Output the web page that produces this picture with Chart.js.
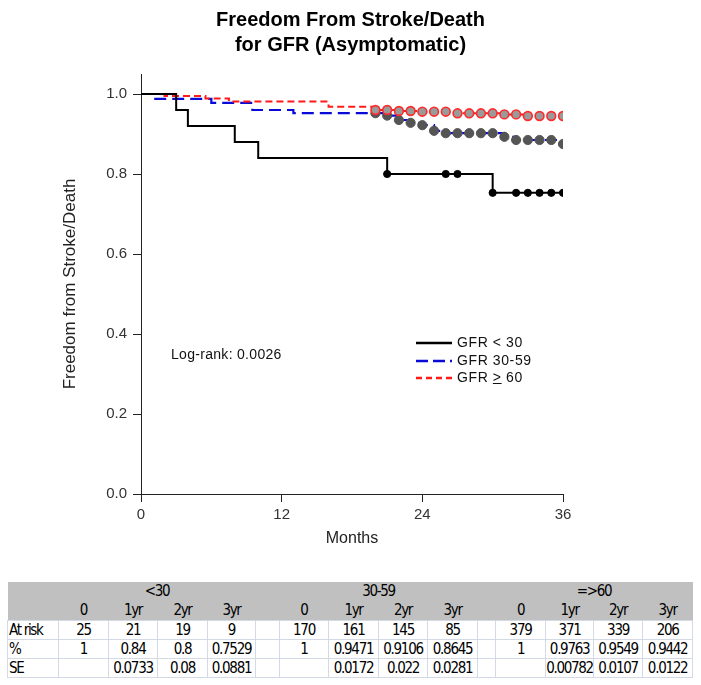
<!DOCTYPE html>
<html lang="en">
<head>
    <meta charset="UTF-8">
    <title>Freedom From Stroke/Death for GFR (Asymptomatic)</title>
    <script src="https://cdn.jsdelivr.net/npm/chart.js"></script>
    <style>
        body { margin: 0; background: #fff; }
        #wrap { position: relative; width: 701px; height: 685px; font-family: "Liberation Sans", Arial, sans-serif; }
        #km { position: absolute; left: 0; top: 0; }
        #legend { position: absolute; left: 416px; top: 334px; font-size: 14px; color: #111; letter-spacing: 0.6px; }
        #legend div { height: 17.5px; line-height: 17.5px; white-space: nowrap; }
        #legend svg { vertical-align: middle; margin-right: 5px; }
        #logrank { position: absolute; left: 171px; top: 346px; font-size: 14px; color: #111; letter-spacing: 0.3px; }
        #risk { position: absolute; left: 7px; top: 582px; border-collapse: collapse; table-layout: fixed; width: 685px;
                font-family: "Liberation Sans Narrow", "DejaVu Sans Condensed", sans-serif; font-size: 15px; letter-spacing: -1.3px; color: #000; }
        #risk td { padding: 0; text-align: center; overflow: visible; white-space: nowrap; line-height: 17px; }
        #risk tr.head td { background: #c0c0c0; height: 19px; }
        #risk tr.body td { border: 1px solid #d4d9e6; height: 18px; }
        #risk td.lab { text-align: left; padding-left: 1px; }
    </style>
</head>
<body>
<div id="wrap">
    <canvas id="km" width="701" height="560"></canvas>
    <div id="legend"></div>
    <div id="logrank">Log-rank: 0.0026</div>
    <table id="risk"></table>
</div>

<script>
    // survival curves (months, proportion)
    const lowMonths  = [0, 3, 4, 8, 10, 21, 30, 36];
    const lowSurv    = [1.0, 0.96, 0.92, 0.88, 0.84, 0.80, 0.7529, 0.7529];
    const lowCensMonths = [21, 26, 27, 30, 32, 33, 34, 35, 36];
    const lowCensSurv   = [0.80, 0.80, 0.80, 0.7529, 0.7529, 0.7529, 0.7529, 0.7529, 0.7529];

    const midMonths  = [0, 1, 6, 9.5, 13, 21, 22, 23, 24, 25, 26, 31, 32, 35.8, 36];
    const midSurv    = [1.0, 0.988, 0.978, 0.96, 0.952, 0.946, 0.935, 0.928, 0.922, 0.908, 0.902, 0.893, 0.885, 0.875, 0.875];
    const midCensMonths = [20, 21, 22, 23, 24, 25, 26, 27, 28, 29, 30, 31, 32, 33, 34, 35, 36];
    const midCensSurv   = [0.952, 0.946, 0.935, 0.928, 0.922, 0.908, 0.902, 0.902, 0.902, 0.902, 0.902, 0.893, 0.885, 0.885, 0.885, 0.885, 0.875];

    const highMonths = [0, 2, 5.5, 7.5, 16, 20, 22, 24, 27, 31, 33, 36];
    const highSurv   = [1.0, 0.995, 0.989, 0.981, 0.968, 0.96, 0.9575, 0.9558, 0.9517, 0.949, 0.945, 0.945];
    const highCensMonths = [20, 21, 22, 23, 24, 25, 26, 27, 28, 29, 30, 31, 32, 33, 34, 35, 36];
    const highCensSurv   = [0.96, 0.96, 0.9575, 0.9575, 0.9558, 0.9558, 0.9558, 0.9517, 0.9517, 0.9517, 0.9517, 0.949, 0.949, 0.945, 0.945, 0.945, 0.945];

    const monthTicks = [0, 12, 24, 36];
    const survTicks = [0, 0.2, 0.4, 0.6, 0.8, 1.0];

    // risk table
    const groupNames = ['<30', '30-59', '=>60'];
    const timeLabels = ['0', '1yr', '2yr', '3yr'];
    const rowNames = ['At risk', '%', 'SE'];
    const atRisk = [[25, 21, 19, 9], [170, 161, 145, 85], [379, 371, 339, 206]];
    const pct = [['1', '0.84', '0.8', '0.7529'], ['1', '0.9471', '0.9106', '0.8645'], ['1', '0.9763', '0.9549', '0.9442']];
    const se = [['', '0.0733', '0.08', '0.0881'], ['', '0.0172', '0.022', '0.0281'], ['', '0.00782', '0.0107', '0.0122']];

    const legendNames = ['GFR < 30', 'GFR 30-59', 'GFR <u>&gt;</u> 60'];

    function pts(xs, ys) {
        return xs.map((x, i) => ({ x: x, y: ys[i] }));
    }

    function buildLegend() {
        const styles = [
            { color: '#000000', dash: '' },
            { color: '#0a0ad8', dash: '12 5' },
            { color: '#ff1a1a', dash: '6 4' }
        ];
        const box = document.getElementById('legend');
        legendNames.forEach((name, i) => {
            const row = document.createElement('div');
            row.innerHTML = '<svg width="36" height="6"><line x1="0" y1="3" x2="36" y2="3" stroke="' + styles[i].color +
                '" stroke-width="2.5" stroke-dasharray="' + styles[i].dash + '"/></svg>' + name;
            box.appendChild(row);
        });
    }

    function buildTable() {
        const widths = [51, 50, 49, 50, 48, 24, 49, 50, 49, 50, 18, 50, 48, 49, 50];
        const t = document.getElementById('risk');
        let html = '<colgroup>' + widths.map(w => '<col style="width:' + w + 'px">').join('') + '</colgroup>';
        html += '<tr class="head"><td></td>';
        groupNames.forEach((g, i) => {
            if (i > 0) html += '<td></td>';
            html += '<td colspan="4">' + g.replace('<', '&lt;').replace('>', '&gt;') + '</td>';
        });
        html += '</tr><tr class="head"><td></td>';
        groupNames.forEach((g, i) => {
            if (i > 0) html += '<td></td>';
            timeLabels.forEach(l => { html += '<td>' + l + '</td>'; });
        });
        html += '</tr>';
        const rows = [atRisk, pct, se];
        rows.forEach((r, k) => {
            html += '<tr class="body"><td class="lab">' + rowNames[k] + '</td>';
            r.forEach((vals, i) => {
                if (i > 0) html += '<td></td>';
                vals.forEach(v => { html += '<td>' + v + '</td>'; });
            });
            html += '</tr>';
        });
        t.innerHTML = html;
    }

    function createChart() {
        const ctx = document.getElementById('km').getContext('2d');
        new Chart(ctx, {
            type: 'line',
            data: {
                datasets: [
                    { data: pts(lowMonths, lowSurv), borderColor: '#000', borderWidth: 2, stepped: true, pointRadius: 0, fill: false, order: 0 },
                    { type: 'scatter', data: pts(lowCensMonths, lowCensSurv), pointRadius: 3.6, backgroundColor: '#000', borderColor: '#000', borderWidth: 1, order: 1 },
                    { type: 'scatter', data: pts(highCensMonths, highCensSurv), pointRadius: 4.4, backgroundColor: '#9a9a9a', borderColor: '#ff2a2a', borderWidth: 1.6, order: 2 },
                    { data: pts(highMonths, highSurv), borderColor: '#ff1a1a', borderWidth: 2, borderDash: [7, 4], stepped: true, pointRadius: 0, fill: false, order: 3 },
                    { type: 'scatter', data: pts(midCensMonths, midCensSurv), pointRadius: 4.6, backgroundColor: '#555', borderColor: '#555', borderWidth: 1, order: 4 },
                    { data: pts(midMonths, midSurv), borderColor: '#0a0ad8', borderWidth: 2.2, borderDash: [12, 6], stepped: true, pointRadius: 0, fill: false, order: 5 }
                ]
            },
            options: {
                responsive: false,
                animation: false,
                layout: { padding: 0 },
                plugins: {
                    legend: { display: false },
                    tooltip: { enabled: false },
                    title: {
                        display: true,
                        text: ['Freedom From Stroke/Death', 'for GFR (Asymptomatic)'],
                        color: '#000',
                        font: { family: 'Liberation Sans', size: 20, weight: 'bold', lineHeight: 1.25 },
                        padding: { top: 8, bottom: 16 }
                    }
                },
                scales: {
                    x: {
                        type: 'linear', min: 0, max: 36,
                        afterBuildTicks: s => { s.ticks = monthTicks.map(v => ({ value: v })); },
                        ticks: { color: '#333', font: { family: 'Liberation Sans', size: 15 }, padding: 4, maxRotation: 0 },
                        grid: { drawOnChartArea: false, tickLength: 8, color: '#222' },
                        border: { color: '#222', width: 1 },
                        title: { display: true, text: 'Months', color: '#222', font: { family: 'Liberation Sans', size: 16 }, padding: { top: 0, bottom: 12 } },
                        afterFit: s => { s.height = 66; }
                    },
                    y: {
                        min: 0, max: 1.05,
                        afterBuildTicks: s => { s.ticks = survTicks.map(v => ({ value: v })); },
                        ticks: { color: '#333', font: { family: 'Liberation Sans', size: 15 }, padding: 6, callback: v => v.toFixed(1) },
                        grid: { drawOnChartArea: false, tickLength: 8, color: '#222' },
                        border: { color: '#222', width: 1 },
                        title: { display: true, text: 'Freedom from Stroke/Death', color: '#222', font: { family: 'Liberation Sans', size: 17 }, padding: { top: 60, bottom: 0 } },
                        afterFit: s => { s.width = 141; }
                    },
                    pad: {
                        position: 'right', display: true,
                        ticks: { display: false }, grid: { display: false }, border: { display: false },
                        afterFit: s => { s.width = 138; }
                    }
                }
            }
        });
    }

    buildLegend();
    buildTable();
    createChart();
</script>
</body>
</html>
